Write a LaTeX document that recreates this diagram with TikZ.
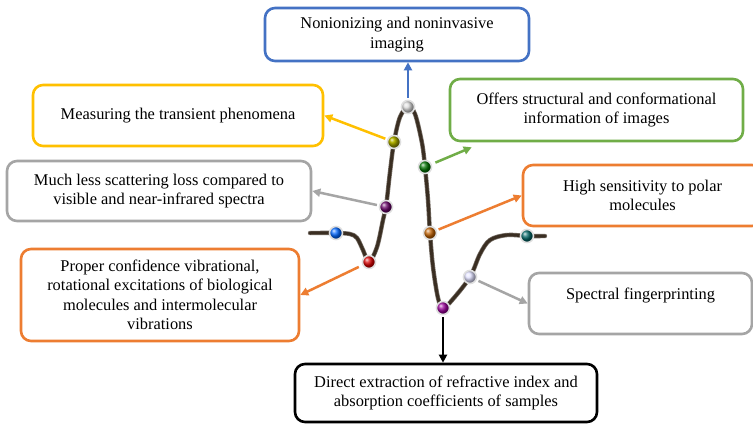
\documentclass[tikz,border=0pt]{standalone}
\usepackage{fontspec}
\setmainfont{Liberation Serif}
\usetikzlibrary{arrows.meta,calc}
\definecolor{cblue}{HTML}{4472C4}
\definecolor{cyellow}{HTML}{FFC000}
\definecolor{cgray}{HTML}{A5A5A5}
\definecolor{cgreen}{HTML}{70AD47}
\definecolor{corange}{HTML}{ED7D31}
\definecolor{ccurve}{HTML}{3A2E22}
\begin{document}
\begin{tikzpicture}[x=1pt,y=-1pt,
  box/.style={draw, line width=2.6pt, rounded corners=10pt, align=center, inner sep=0pt,
    font=\fontsize{16.4}{19.5}\selectfont},
  bead/.style={circle, inner sep=0pt, minimum size=13pt, draw=gray!25, line width=1.6pt,
    shading=ball, ball color=#1},
  conn/.style={line width=2.5pt, -{Triangle[length=8pt,width=8pt]}, shorten <=2pt}
]
\fill[white] (0,0) rectangle (753,424);
\begin{scope}
\clip (0,0) rectangle (753,424);
% boxes
\node[box, draw=cblue, minimum width=264pt, minimum height=53pt] (blue) at (397,34.5)
  {Nonionizing and noninvasive\\imaging};
\node[box, draw=cyellow, minimum width=290pt, minimum height=61pt] (yellow) at (178,115.5)
  {Measuring the transient phenomena};
\node[box, draw=cgray, minimum width=304pt, minimum height=60pt] (grayA) at (159,191)
  {Much less scattering loss compared to\\visible and near-infrared spectra};
\node[box, draw=cgreen, minimum width=293pt, minimum height=62pt] (green) at (596.5,110)
  {Offers structural and conformational\\information of images};
\node[box, draw=corange, minimum width=239pt, minimum height=61pt] (orangeR) at (642.5,195.5)
  {High sensitivity to polar\\molecules};
\node[box, draw=corange, minimum width=278pt, minimum height=92pt] (orangeL) at (160,295)
  {Proper confidence vibrational,\\rotational excitations of biological\\molecules and intermolecular\\vibrations};
\node[box, draw=cgray, minimum width=223pt, minimum height=61pt] (spectral) at (640.5,303.5)
  {Spectral fingerprinting\\\mbox{}};
\node[box, draw=black, minimum width=302pt, minimum height=58pt] (black) at (446,393)
  {Direct extraction of refractive index and\\absorption coefficients of samples};
% curve
\draw[ccurve!70, line width=4.4pt, line cap=round] plot[smooth, tension=0.55] coordinates {
  (310,233) (336,233) (350,234) (357,238) (363,250) (369,262) (377,247) (383,220) (386,207)
  (390,172) (394,142) (400,117) (408,107) (415,114) (422,143) (425,167) (428,200) (430,233)
  (433,267) (438,298) (443,308) (453,299) (470,277) (480,254) (490,240) (507,235) (527,236) (545,236)};
\draw[ccurve, line width=3pt, line cap=round] plot[smooth, tension=0.55] coordinates {
  (310,233) (336,233) (350,234) (357,238) (363,250) (369,262) (377,247) (383,220) (386,207)
  (390,172) (394,142) (400,117) (408,107) (415,114) (422,143) (425,167) (428,200) (430,233)
  (433,267) (438,298) (443,308) (453,299) (470,277) (480,254) (490,240) (507,235) (527,236) (545,236)};
% beads
\node[bead=blue!60!cyan] (dBlue) at (336,233) {};
\node[bead=red!85!black] (dRed) at (369,262) {};
\node[bead=violet!80!black] (dPurple) at (386,207) {};
\node[bead=olive!80!yellow] (dOlive) at (394,142) {};
\node[bead=gray!30] (dTop) at (408,107) {};
\node[bead=green!45!black] (dGreen) at (425,167) {};
\node[bead=orange!75!black] (dOrange) at (430,233) {};
\node[bead=magenta!60!black] (dMag) at (443,308) {};
\node[bead=blue!12] (dLav) at (470,277) {};
\node[bead=teal!80!black] (dTeal) at (527,236) {};
% connectors
\draw[conn, cblue] (dTop) -- (dTop |- blue.south);
\draw[conn, cyellow] (dOlive) -- (yellow.east);
\draw[conn, cgray] (dPurple) -- (grayA.east);
\draw[conn, cgreen, shorten <=4pt] (dGreen) -- ($(green.south west)+(23,5)$);
\draw[conn, corange] (dOrange) -- (orangeR.west);
\draw[conn, corange, shorten <=4pt] (dRed) -- (orangeL.east);
\draw[conn, cgray] (dLav) -- (spectral.west);
\draw[conn, black] (dMag) -- (dMag |- black.north);
\end{scope}
\pgfresetboundingbox
\useasboundingbox (0,0) rectangle (753,424);
\end{tikzpicture}
\end{document}
